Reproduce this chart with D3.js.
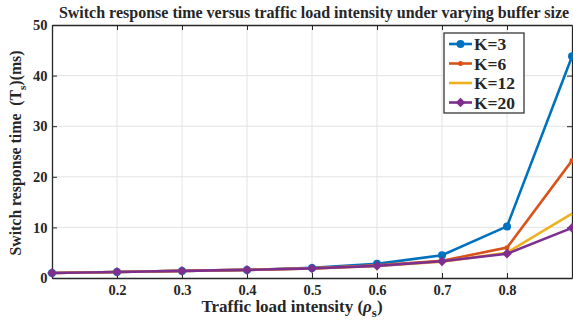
<!DOCTYPE html>
<html>
<head>
<meta charset="utf-8">
<script src="https://cdn.jsdelivr.net/npm/d3@7"></script>
<style>
  body { margin: 0; background: #fff; }
</style>
</head>
<body>
<div class="chart"></div>
<script>
var load = [0.1, 0.2, 0.3, 0.4, 0.5, 0.6, 0.7, 0.8, 0.9];
var k3  = [1.0, 1.2, 1.4, 1.6, 2.0, 2.8, 4.5, 10.2, 43.8];
var k6  = [1.0, 1.2, 1.4, 1.6, 1.9, 2.5, 3.4, 6.0, 23.2];
var k12 = [1.0, 1.2, 1.4, 1.6, 1.9, 2.4, 3.2, 5.0, 12.7];
var k20 = [1.0, 1.2, 1.4, 1.6, 1.9, 2.4, 3.3, 4.8, 9.9];
var xTicks = [0.2, 0.3, 0.4, 0.5, 0.6, 0.7, 0.8];
var yTicks = [0, 10, 20, 30, 40, 50];

var series = [
    {name: "K=3",  vals: k3,  color: "#0072BD", marker: "circle"},
    {name: "K=6",  vals: k6,  color: "#D95319", marker: "dot"},
    {name: "K=12", vals: k12, color: "#EDB120", marker: "none"},
    {name: "K=20", vals: k20, color: "#7E2F8E", marker: "diamond"}
];

var FONT = "'Liberation Serif', 'Times New Roman', Times, serif";
var INK = "#262626";

var w = 573, h = 322;
var m = {top: 25, right: 1, bottom: 44, left: 52};

var svg = d3.select(".chart").append("svg")
    .attr("width", w)
    .attr("height", h)
    .style("font-family", FONT);

var x = d3.scaleLinear().domain([0.1, 0.9]).range([m.left, w - m.right]);
var y = d3.scaleLinear().domain([0, 50]).range([h - m.bottom, m.top]);

// grid
svg.append("g").selectAll("line").data(xTicks).enter().append("line")
    .attr("x1", d => x(d)).attr("x2", d => x(d))
    .attr("y1", y(0)).attr("y2", y(50))
    .attr("stroke", "#e3e3e3").attr("stroke-width", 1);
svg.append("g").selectAll("line").data(yTicks.slice(1, -1)).enter().append("line")
    .attr("x1", x(0.1)).attr("x2", x(0.9))
    .attr("y1", d => y(d)).attr("y2", d => y(d))
    .attr("stroke", "#e3e3e3").attr("stroke-width", 1);

// axes
var xAxis = svg.append("g")
    .attr("transform", "translate(0," + y(0) + ")")
    .call(d3.axisBottom(x).tickValues(xTicks).tickSizeInner(-5).tickSizeOuter(0).tickFormat(d3.format(".1f")));
var yAxis = svg.append("g")
    .attr("transform", "translate(" + x(0.1) + ",0)")
    .call(d3.axisLeft(y).tickValues(yTicks).tickSizeInner(-5).tickSizeOuter(0));
svg.append("g")
    .attr("transform", "translate(0," + y(50) + ")")
    .call(d3.axisTop(x).tickValues(xTicks).tickSizeInner(-5).tickSizeOuter(0).tickFormat(""));
svg.append("g")
    .attr("transform", "translate(" + x(0.9) + ",0)")
    .call(d3.axisRight(y).tickValues(yTicks).tickSizeInner(-5).tickSizeOuter(0).tickFormat(""));

svg.selectAll(".domain").attr("stroke", INK).attr("stroke-width", 1.3);
svg.selectAll(".tick line").attr("stroke", INK);
svg.selectAll(".tick text")
    .attr("font-family", null)
    .style("font-family", FONT)
    .style("font-weight", "bold")
    .style("font-size", "14.5px")
    .attr("fill", INK);
xAxis.selectAll("text").attr("dy", "0.95em");
yAxis.selectAll("text").attr("dx", "-0.1em");

// lines
var line = d3.line().x((d, i) => x(load[i])).y(d => y(d));

series.forEach(function (s) {
    var g = svg.append("g");
    g.append("path").datum(s.vals)
        .attr("d", line)
        .attr("fill", "none")
        .attr("stroke", s.color)
        .attr("stroke-width", 2.6);
    drawMarkers(g, s, s.vals.map((v, i) => [x(load[i]), y(v)]));
});

function drawMarkers(g, s, pts) {
    if (s.marker == "circle") {
        g.selectAll("circle").data(pts).enter().append("circle")
            .attr("cx", d => d[0]).attr("cy", d => d[1]).attr("r", 4)
            .attr("fill", s.color);
    } else if (s.marker == "dot") {
        g.selectAll("circle").data(pts).enter().append("circle")
            .attr("cx", d => d[0]).attr("cy", d => d[1]).attr("r", 2.5)
            .attr("fill", s.color);
    } else if (s.marker == "diamond") {
        g.selectAll("path.mk").data(pts).enter().append("path")
            .attr("class", "mk")
            .attr("d", d3.symbol(d3.symbolDiamond2, 60))
            .attr("transform", d => "translate(" + d[0] + "," + d[1] + ")")
            .attr("fill", s.color);
    }
}

function label(sel, size) {
    return sel.style("font-family", FONT).style("font-weight", "bold")
        .style("font-size", size).attr("fill", INK);
}

// legend
var lg = svg.append("g").attr("transform", "translate(444,33)");
lg.append("rect").attr("width", 80).attr("height", 80)
    .attr("fill", "#fff").attr("stroke", INK).attr("stroke-width", 1.2);
series.forEach(function (s, i) {
    var gy = 11 + i * 19.5;
    var g = lg.append("g");
    g.append("line").attr("x1", 5).attr("x2", 28).attr("y1", gy).attr("y2", gy)
        .attr("stroke", s.color).attr("stroke-width", 2.6);
    drawMarkers(g, s, [[16.5, gy]]);
    label(g.append("text"), "17.5px")
        .attr("x", 30).attr("y", gy).attr("dy", "0.35em")
        .text(s.name);
});

// title and labels
label(svg.append("text"), "16px")
    .attr("x", (x(0.1) + x(0.9)) / 2 + 2).attr("y", 18)
    .attr("text-anchor", "middle")
    .text("Switch response time versus traffic load intensity under varying buffer size");

var xl = label(svg.append("text"), "17px")
    .attr("x", 292).attr("y", 312)
    .attr("text-anchor", "middle");
xl.append("tspan").text("Traffic load intensity (");
xl.append("tspan").style("font-style", "italic").text("ρ");
xl.append("tspan").attr("dy", 5).style("font-size", "13px").text("s");
xl.append("tspan").attr("dy", -5).text(")");

var yl = label(svg.append("text"), "15.8px")
    .attr("transform", "translate(21,153) rotate(-90)")
    .attr("text-anchor", "middle")
    .style("white-space", "pre");
yl.append("tspan").text("Switch response time  (T");
yl.append("tspan").attr("dy", 5).style("font-size", "11px").text("s");
yl.append("tspan").attr("dy", -5).text(")(ms)");
</script>
</body>
</html>
